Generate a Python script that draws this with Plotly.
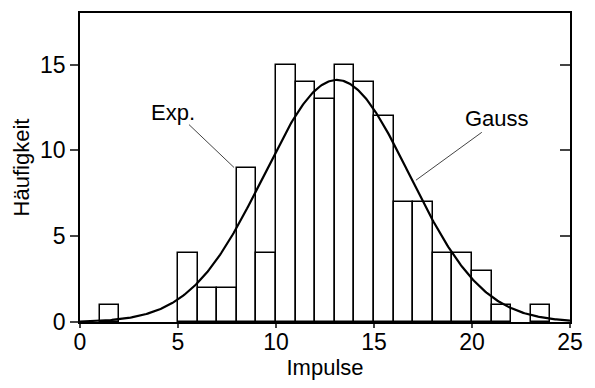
import plotly.graph_objects as go
import numpy as np

# Histogram data (bin left edges, width 1)
bin_left = [1, 5, 6, 7, 8, 9, 10, 11, 12, 13, 14, 15, 16, 17, 18, 19, 20, 21, 23]
counts   = [1, 4, 2, 2, 9, 4, 15, 14, 13, 15, 14, 12, 7, 7, 4, 4, 3, 1, 1]

# Fitted Gauss parameters
gauss_amp = 14.1
gauss_mu = 13.1
gauss_sigma = 3.72

x_ticks = [0, 5, 10, 15, 20, 25]
y_ticks = [0, 5, 10, 15]

FONT = "Liberation Sans, Arial, Helvetica, sans-serif"

fig = go.Figure()
fig.add_trace(go.Bar(
    x=[b + 0.5 for b in bin_left], y=counts, width=1,
    marker=dict(color="white", line=dict(color="black", width=1.5)),
    showlegend=False, hoverinfo="skip",
))
xc = np.linspace(0, 25, 400)
yc = gauss_amp * np.exp(-(xc - gauss_mu) ** 2 / (2 * gauss_sigma ** 2))
fig.add_trace(go.Scatter(x=xc, y=yc, mode="lines",
                         line=dict(color="black", width=2.2),
                         showlegend=False, hoverinfo="skip"))
# invisible trace for right axis
fig.add_trace(go.Scatter(x=[0], y=[0], yaxis="y2", mode="markers",
                         marker=dict(opacity=0), showlegend=False, hoverinfo="skip"))

fig.update_layout(
    width=587, height=380,
    margin=dict(l=72, r=25, t=5, b=66),
    paper_bgcolor="white", plot_bgcolor="white",
    font=dict(family=FONT, size=22, color="black"),
    bargap=0,
    xaxis=dict(range=[0, 25], tickvals=x_ticks, ticks="outside", ticklen=4,
               tickwidth=1.5, showline=True, linecolor="black", linewidth=1.5,
               mirror=True, showgrid=False, zeroline=False, automargin=False,
               ticklabelstandoff=-5,
               title=dict(text="Impulse", standoff=0, font=dict(size=22)),
               tickfont=dict(size=23)),
    yaxis=dict(range=[0, 18], tickvals=y_ticks, ticks="outside", ticklen=8,
               tickwidth=1.5, showline=True, linecolor="black", linewidth=1.5,
               showgrid=False, zeroline=False, automargin=False,
               title=dict(text="Häufigkeit", standoff=4, font=dict(size=22)),
               tickfont=dict(size=23)),
    yaxis2=dict(range=[0, 18], tickvals=y_ticks, ticks="inside", ticklen=10,
                tickwidth=1.5, showline=True, linecolor="black", linewidth=1.5,
                overlaying="y", side="right", showticklabels=False,
                showgrid=False, zeroline=False, automargin=False),
    shapes=[
        dict(type="line", xref="x", yref="y", x0=5.56, y0=11.5, x1=7.86, y1=9.0,
             line=dict(color="#444444", width=1)),
        dict(type="line", xref="x", yref="y", x0=20.5, y0=11.05, x1=17.14, y1=8.26,
             line=dict(color="#444444", width=1)),
    ],
    annotations=[
        dict(x=4.74, y=12.2, xref="x", yref="y", text="Exp.", showarrow=False,
             font=dict(size=22)),
        dict(x=21.28, y=11.86, xref="x", yref="y", text="Gauss", showarrow=False,
             font=dict(size=22)),
    ],
)

fig.write_html("out.html")
